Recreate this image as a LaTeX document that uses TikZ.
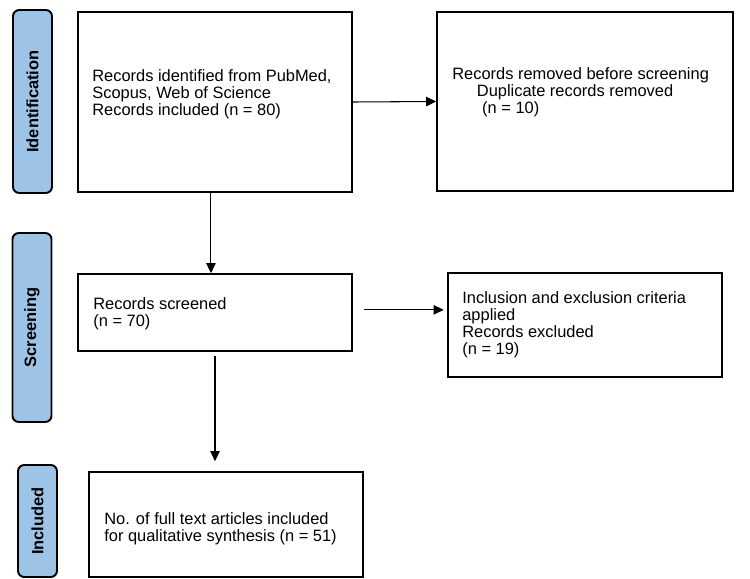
\documentclass[tikz,border=0pt]{standalone}
\usepackage{fontspec}
\setmainfont{Liberation Sans}
\usetikzlibrary{arrows.meta, positioning, calc}

\definecolor{stageblue}{RGB}{157,195,230}

\begin{document}
\begin{tikzpicture}[x=0.02cm, y=-0.02cm,
        font=\fontsize{9.35pt}{9.7pt}\selectfont,
        box/.style={draw, line width=0.9pt, rectangle, inner sep=0pt},
        txt/.style={anchor=north west, align=left, inner sep=0pt},
        stage/.style={draw, line width=1.1pt, fill=stageblue, rounded corners=3.5pt,
                      rotate=90, minimum height=0.78cm, inner sep=0pt, font=\fontsize{9.35pt}{9.7pt}\selectfont\bfseries},
        arr/.style={-{Triangle[length=5.8pt, width=5.4pt]}, line width=0.6pt}]
                \useasboundingbox (0,0) rectangle (750,578);

                % stage labels
                \node[stage, minimum width=3.66cm] (identlbl) at (32.5,101.5) {Identification};
                \node[stage, minimum width=3.78cm] (screenlbl) at (32,327.5) {Screening};
                \node[stage, minimum width=2.24cm] (incllbl) at (37.5,521) {Included};

                % boxes
                \node[box, minimum width=5.48cm, minimum height=3.6cm] (ident) at (215,102) {};
                \node[box, minimum width=5.92cm, minimum height=3.58cm] (removed) at (585,101.5) {};
                \node[box, minimum width=5.48cm, minimum height=1.54cm] (screened) at (215,312.5) {};
                \node[box, minimum width=5.48cm, minimum height=2.08cm] (excluded) at (585,325) {};
                \node[box, minimum width=5.48cm, minimum height=2.1cm] (included) at (226,524.5) {};

                % box texts
                \node[txt] (identtxt) at (92,69) {Records identified from PubMed,\\ Scopus, Web of Science\\ Records included (n = 80)};
                \node[txt] (removedtxt) at (452,67) {Records removed before screening\\ \hspace*{14pt}Duplicate records removed\\ \hspace*{17pt}(n = 10)};
                \node[txt] (screenedtxt) at (93,297) {Records screened\\ (n = 70)};
                \node[txt] (excludedtxt) at (462,291) {Inclusion and exclusion criteria\\ applied\\ Records excluded\\ (n = 19)};
                \node[txt] (includedtxt) at (104,512) {No. of full text articles included\\ for qualitative synthesis (n = 51)};

                % connectors
                \draw[arr] (ident.east) -- (removed.west);
                \draw[arr] ([xshift=-2.3pt]ident.south) -- ([xshift=-2.3pt]ident.south |- screened.north);
                \draw[arr, shorten <=6.2pt, shorten >=2pt] ([yshift=1.5pt]screened.east) -- ([yshift=1.5pt]screened.east -| excluded.west);
                \draw[arr, shorten <=2.3pt, shorten >=5.7pt] (screened.south) -- (screened.south |- included.north);
              \end{tikzpicture}
\end{document}
